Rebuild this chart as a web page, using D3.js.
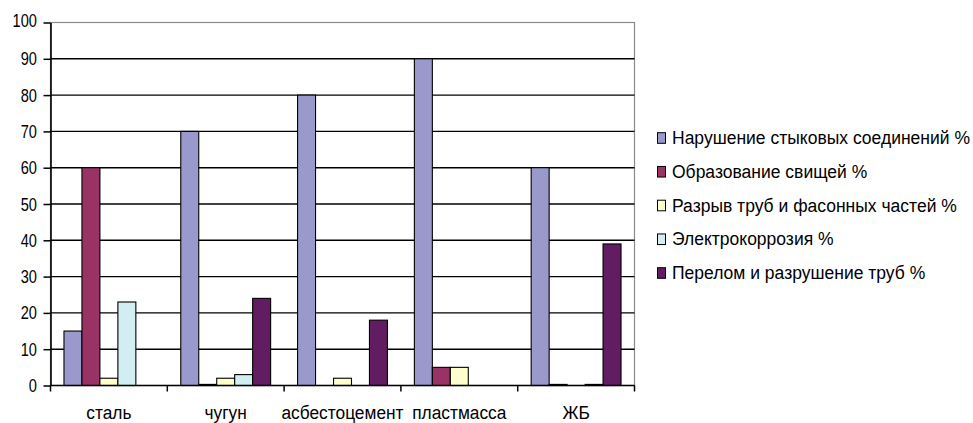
<!DOCTYPE html>
<html>
<head>
<meta charset="utf-8">
<script src="https://cdn.jsdelivr.net/npm/d3@7"></script>
<style>
  html, body { margin: 0; padding: 0; background: #fff; }
  svg { display: block; }
  text { font-family: "Liberation Sans", Arial, sans-serif; fill: #000; }
</style>
</head>
<body>
<svg id="chart" width="973" height="423"></svg>
<script>
// Pipe material categories
const categories = ["сталь", "чугун", "асбестоцемент", "пластмасса", "ЖБ"];

// Failure types (legend entries)
const seriesNames = [
  "Нарушение стыковых соединений %",
  "Образование свищей %",
  "Разрыв труб и фасонных частей %",
  "Электрокоррозия %",
  "Перелом и разрушение труб %"
];

// Share of each failure type per material, %
const jointFailures    = [15, 70, 80, 90, 60];
const fistulas         = [60, 0.3, 0, 5, 0.3];
const pipeRuptures     = [2, 2, 2, 5, 0];
const electroCorrosion = [23, 3, 0, 0, 0.3];
const breakage         = [0, 24, 18, 0, 39];

const yTicks = [0, 10, 20, 30, 40, 50, 60, 70, 80, 90, 100];

const seriesValues = [jointFailures, fistulas, pipeRuptures, electroCorrosion, breakage];
const colors = ["#9999cc", "#993366", "#ffffcc", "#d2eef2", "#621c62"];

const svg = d3.select("#chart");

const plot = { left: 50.5, right: 634.5, top: 22.5, bottom: 385.5 };

const x = d3.scaleBand().domain(categories).range([plot.left, plot.right]).padding(0);
const xs = d3.scaleBand().domain(seriesNames).range([0, x.bandwidth()])
  .paddingInner(0).paddingOuter(0.75);
const y = d3.scaleLinear().domain([0, 100]).range([plot.bottom, plot.top]);

// plot area frame
svg.append("rect")
  .attr("x", plot.left).attr("y", plot.top)
  .attr("width", plot.right - plot.left).attr("height", plot.bottom - plot.top)
  .attr("fill", "#fff").attr("stroke", "#8a8a8a").attr("stroke-width", 1.2);

// horizontal gridlines
svg.append("g")
  .selectAll("line")
  .data(yTicks.filter(t => t > 0 && t < 100))
  .join("line")
  .attr("x1", plot.left).attr("x2", plot.right)
  .attr("y1", d => y(d)).attr("y2", d => y(d))
  .attr("stroke", "#000").attr("stroke-width", 1.4);

// bars
const rows = [];
seriesValues.forEach((vals, si) => {
  vals.forEach((v, ci) => {
    if (v > 0) rows.push({ series: seriesNames[si], cat: categories[ci], value: v, color: colors[si] });
  });
});

svg.append("g")
  .selectAll("rect")
  .data(rows)
  .join("rect")
  .attr("x", d => x(d.cat) + xs(d.series))
  .attr("y", d => y(d.value))
  .attr("width", xs.bandwidth())
  .attr("height", d => y(0) - y(d.value))
  .attr("fill", d => d.color)
  .attr("stroke", "#000")
  .attr("stroke-width", 1.1);

// y axis
const yAxis = d3.axisLeft(y).tickValues(yTicks).tickSize(7).tickSizeOuter(0).tickFormat(d3.format("d"));
const gy = svg.append("g").attr("transform", `translate(${plot.left},0)`).call(yAxis);
gy.select(".domain").attr("stroke", "#000").attr("stroke-width", 1.6);
gy.selectAll(".tick line").attr("stroke", "#000").attr("stroke-width", 1.5);
gy.selectAll(".tick text")
  .attr("x", null).attr("dy", null)
  .attr("font-size", 17)
  .attr("text-anchor", "end")
  .attr("dominant-baseline", "central")
  .attr("transform", d => `translate(-13.5,${d === 100 ? -2 : 0}) scale(0.86,1.08)`)
  .style("font-family", "'Liberation Sans', Arial, sans-serif");

// x axis with ticks on category boundaries
const boundaries = categories.map(c => x(c)).concat([plot.right]);
const gx = svg.append("g");
gx.append("line")
  .attr("x1", plot.left).attr("x2", plot.right)
  .attr("y1", plot.bottom).attr("y2", plot.bottom)
  .attr("stroke", "#000").attr("stroke-width", 1.6);
gx.selectAll("line.tk")
  .data(boundaries)
  .join("line").attr("class", "tk")
  .attr("x1", d => d).attr("x2", d => d)
  .attr("y1", plot.bottom).attr("y2", plot.bottom + 6)
  .attr("stroke", "#000").attr("stroke-width", 1.5);
gx.selectAll("text")
  .data(categories)
  .join("text")
  .attr("transform", d => `translate(${x(d) + x.bandwidth() / 2},418.5) scale(1.02,1.08)`)
  .attr("text-anchor", "middle")
  .attr("font-size", 17)
  .text(d => d);

// legend
const legend = svg.append("g");
const rowStep = 33.75;
const item = legend.selectAll("g")
  .data(seriesNames)
  .join("g")
  .attr("transform", (d, i) => `translate(657.5,${138 + i * rowStep})`);
item.append("rect")
  .attr("x", 0).attr("y", -5.3)
  .attr("width", 8).attr("height", 10.6)
  .attr("fill", (d, i) => colors[i])
  .attr("stroke", "#000").attr("stroke-width", 1);
item.append("text")
  .attr("transform", "translate(14.5,0) scale(1.03,1.07)")
  .attr("dominant-baseline", "central")
  .attr("font-size", 17)
  .text(d => d);
</script>
</body>
</html>
